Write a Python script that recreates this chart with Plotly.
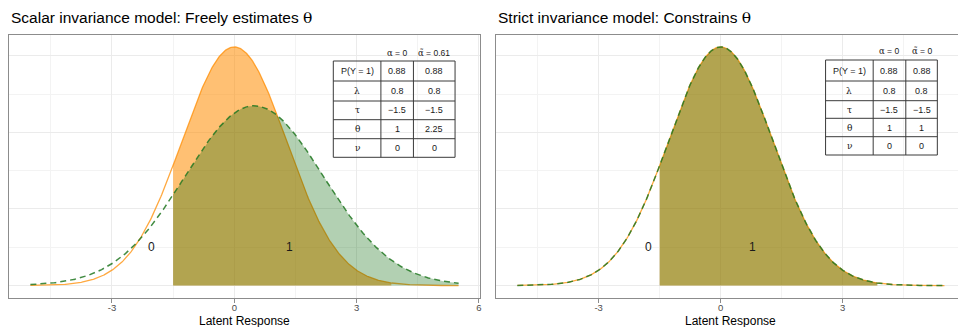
import numpy as np
import plotly.graph_objects as go

# ---------------- data ----------------
x_start, x_end = -5.0, 5.5
tau = -1.5
lam = 0.8

# scalar model (left): reference group vs focal group
scalar_alpha = [0.0, 0.61]
scalar_theta = [1.0, 2.25]
scalar_fill_end = [3.85, 5.5]
# strict model (right)
strict_alpha = [0.0, 0.0]
strict_theta = [1.0, 1.0]
strict_fill_end = [3.85, 3.85]

row_labels = ["P(Y = 1)", "λ", "τ", "θ", "ν"]
scalar_ref_col = ["0.88", "0.8", "−1.5", "1", "0"]
scalar_foc_col = ["0.88", "0.8", "−1.5", "2.25", "0"]
strict_ref_col = ["0.88", "0.8", "−1.5", "1", "0"]
strict_foc_col = ["0.88", "0.8", "−1.5", "1", "0"]
scalar_headers = [("α", " = 0"), ("α\u0303", " = 0.61")]
strict_headers = [("α", " = 0"), ("α\u0303", " = 0")]

region_labels = ["0", "1"]
x_tickvals = [-3, 0, 3, 6]
x_ticktext = ["-3", "0", "3", "6"]
x_minor = [-4.5, -1.5, 1.5, 4.5]
y_major = [0, 0.1, 0.2, 0.3]
y_minor = [0.05, 0.15, 0.25]

# ---------------- helpers ----------------
W, H = 960, 327
def px(x):
    return x / W
def py(y):
    return 1 - y / H

SANS = "Liberation Sans, Arial, sans-serif"
SERIF = "DejaVu Serif"

ORANGE_LINE = "rgba(255,140,0,0.75)"
ORANGE_FILL = "rgba(255,140,0,0.55)"
GREEN_LINE = "rgba(34,120,34,0.85)"
GREEN_FILL = "rgba(0,100,0,0.30)"


def pdf(x, m, v):
    return np.exp(-(x - m) ** 2 / (2 * v)) / np.sqrt(2 * np.pi * v)


fig = go.Figure()

def add_panel(alphas, thetas, fill_end, xa, ya):
    grid = np.linspace(x_start, x_end, 500)
    fills = [ORANGE_FILL, GREEN_FILL]
    lines = [ORANGE_LINE, GREEN_LINE]
    dashes = ["solid", "6px,4px"]
    widths = [1.3, 1.5]
    for i in range(2):
        m = lam * alphas[i]
        v = lam ** 2 + thetas[i]
        xs = np.linspace(tau, fill_end[i], 300)
        fig.add_trace(go.Scatter(x=xs, y=pdf(xs, m, v), mode="lines",
                                 line=dict(width=0), fill="tozeroy",
                                 fillcolor=fills[i], xaxis=xa, yaxis=ya,
                                 hoverinfo="skip", showlegend=False))
        fig.add_trace(go.Scatter(x=grid, y=pdf(grid, m, v), mode="lines",
                                 line=dict(color=lines[i], width=widths[i], dash=dashes[i]),
                                 xaxis=xa, yaxis=ya, hoverinfo="skip", showlegend=False))

add_panel(scalar_alpha, scalar_theta, scalar_fill_end, "x", "y")
add_panel(strict_alpha, strict_theta, strict_fill_end, "x2", "y2")

v0 = lam ** 2 + 1.0
ymax = pdf(0, 0, v0)
yr = [-0.05 * ymax, 1.05 * ymax]

ydom = [py(297.5), py(35)]
xax = dict(tickmode="array", tickvals=x_tickvals, ticktext=x_ticktext,
           ticks="outside", ticklen=4, tickwidth=1, tickcolor="#8c8c8c",
           tickfont=dict(family=SANS, size=9.5, color="#4d4d4d"),
           ticklabelstandoff=-3,
           showgrid=True, gridcolor="#ebebeb", gridwidth=1,
           minor=dict(tickmode="array", tickvals=x_minor, showgrid=True,
                      gridcolor="#f3f3f3", gridwidth=0.6, ticks=""),
           showline=True, linecolor="#8c8c8c", linewidth=1, mirror=True,
           zeroline=False, fixedrange=True)
yax = dict(tickmode="array", tickvals=y_major, showticklabels=False, ticks="",
           showgrid=True, gridcolor="#ebebeb", gridwidth=1,
           minor=dict(tickmode="array", tickvals=y_minor, showgrid=True,
                      gridcolor="#f3f3f3", gridwidth=0.6, ticks=""),
           showline=True, linecolor="#8c8c8c", linewidth=1,
           zeroline=False, range=yr, domain=ydom, fixedrange=True)

fig.update_layout(
    width=W, height=H, autosize=False,
    margin=dict(l=0, r=0, t=0, b=0),
    paper_bgcolor="white", plot_bgcolor="white",
    xaxis=dict(xax, domain=[px(9), px(481)], range=[-5.525, 6.025], anchor="y"),
    yaxis=dict(yax, mirror=True, anchor="x"),
    xaxis2=dict(xax, domain=[px(497), 1.0], range=[-5.525, (960 - 722) / 40.8], anchor="y2"),
    yaxis2=dict(yax, mirror=False, anchor="x2"),
)

ann = []
shapes = []

def g(ch):
    return f'<span style="font-family:{SERIF}">{ch}</span>'

# titles
ann.append(dict(text='Scalar invariance model: Freely estimates ' + g("θ"),
                x=px(9), y=py(18), xref="paper", yref="paper", xanchor="left", yanchor="middle",
                showarrow=False, font=dict(family=SANS, size=15.5, color="black")))
ann.append(dict(text='Strict invariance model: Constrains ' + g("θ"),
                x=px(497), y=py(18), xref="paper", yref="paper", xanchor="left", yanchor="middle",
                showarrow=False, font=dict(family=SANS, size=15.5, color="black")))
# axis titles
for cx in (245, 732.5):
    ann.append(dict(text="Latent Response", x=px(cx), y=py(321), xref="paper", yref="paper",
                    xanchor="center", yanchor="middle", showarrow=False,
                    font=dict(family=SANS, size=12, color="black")))

# region labels
for xr, yr_, pos in (("x", "y", [-2.03, 1.35]), ("x2", "y2", [-1.78, 0.78])):
    for lab, xv in zip(region_labels, pos):
        ann.append(dict(text=lab, x=xv, y=0.05, xref=xr, yref=yr_, showarrow=False,
                        xanchor="center", yanchor="middle",
                        font=dict(family=SANS, size=12, color="#1a1a1a")))


GREEK = set("λτθν")

def greekify(s):
    return "".join(g(ch) if ch in GREEK else ch for ch in s)


def add_table(cols_x, rows_y, header_y, headers, col1, col2):
    lc = "#3a3a3a"
    for yv in rows_y:
        shapes.append(dict(type="line", xref="paper", yref="paper",
                           x0=px(cols_x[0]), x1=px(cols_x[-1]), y0=py(yv), y1=py(yv),
                           line=dict(color=lc, width=1)))
    for xv in cols_x:
        shapes.append(dict(type="line", xref="paper", yref="paper",
                           x0=px(xv), x1=px(xv), y0=py(rows_y[0]), y1=py(rows_y[-1]),
                           line=dict(color=lc, width=1)))
    for j, (sym, rest) in enumerate(headers):
        cx = (cols_x[j + 1] + cols_x[j + 2]) / 2
        ann.append(dict(text=g(sym) + rest, x=px(cx), y=py(header_y), xref="paper", yref="paper",
                        showarrow=False, xanchor="center", yanchor="middle",
                        font=dict(family=SANS, size=8.5, color="#1a1a1a")))
    for i in range(len(row_labels)):
        cy = (rows_y[i] + rows_y[i + 1]) / 2
        for j, txt in enumerate([row_labels[i], col1[i], col2[i]]):
            cx = (cols_x[j] + cols_x[j + 1]) / 2
            ann.append(dict(text=greekify(txt), x=px(cx), y=py(cy), xref="paper", yref="paper",
                            showarrow=False, xanchor="center", yanchor="middle",
                            font=dict(family=SANS, size=9, color="#1a1a1a")))


add_table([334, 381.7, 414.3, 456], [61, 81, 101, 119.7, 138.7, 157.3], 53,
          scalar_headers, scalar_ref_col, scalar_foc_col)
add_table([827.3, 875, 907.7, 939.3], [60, 81, 100.7, 118.3, 136.7, 155], 51,
          strict_headers, strict_ref_col, strict_foc_col)

fig.update_layout(annotations=ann, shapes=shapes)
fig.write_html("out.html")
